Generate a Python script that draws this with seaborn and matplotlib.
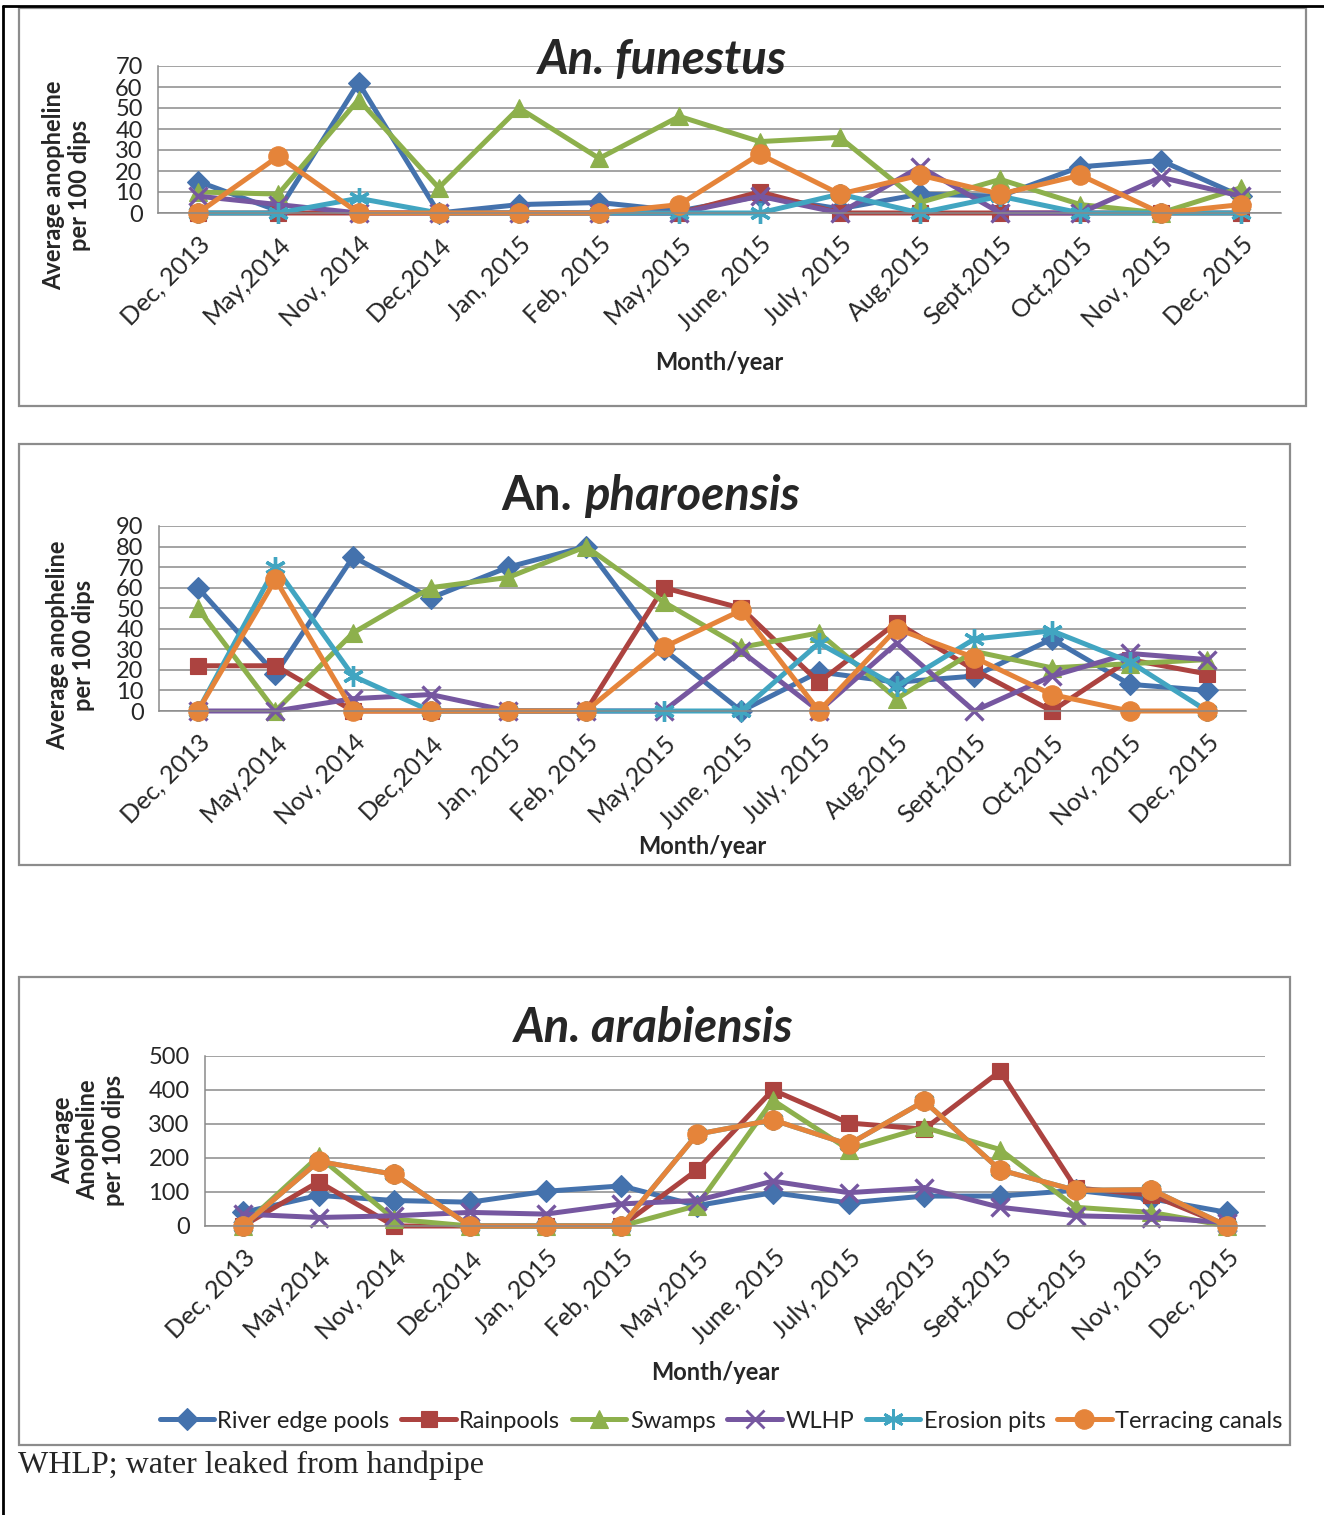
import numpy as np
import pandas as pd
import matplotlib
matplotlib.use("Agg")
import matplotlib.pyplot as plt
from matplotlib.patches import Rectangle
from matplotlib.lines import Line2D
import seaborn as sns

# ---------------------------------------------------------------- data
months = ["Dec, 2013", "May,2014", "Nov, 2014", "Dec,2014", "Jan, 2015",
          "Feb, 2015", "May,2015", "June, 2015", "July, 2015", "Aug,2015",
          "Sept,2015", "Oct,2015", "Nov, 2015", "Dec, 2015"]
sites = ["River edge pools", "Rainpools", "Swamps", "WLHP",
         "Erosion pits", "Terracing canals"]

# An. funestus
fun_river = [15, 1, 62, 0, 4, 5, 1, 8, 2, 9, 8, 22, 25, 8]
fun_rain = [0, 0, 0, 0, 0, 0, 0, 10, 0, 0, 0, 0, 0, 0]
fun_swamp = [10, 9, 54, 12, 50, 26, 46, 34, 36, 5, 16, 4, 0, 12]
fun_wlhp = [8, 4, 0, 0, 0, 0, 0, 8, 0, 22, 0, 0, 17, 8]
fun_erosion = [0, 0, 7, 0, 0, 0, 0, 0, 9, 0, 8, 0, 0, 0]
fun_terrace = [0, 27, 0, 0, 0, 0, 4, 28, 9, 18, 9, 18, 0, 4]

# An. pharoensis
phar_river = [60, 18, 75, 55, 70, 80, 30, 0, 19, 14, 17, 35, 13, 10]
phar_rain = [22, 22, 0, 0, 0, 0, 60, 50, 14, 43, 20, 0, 25, 18]
phar_swamp = [50, 0, 38, 60, 65, 80, 53, 31, 38, 6, 29, 21, 23, 25]
phar_wlhp = [0, 0, 6, 8, 0, 0, 0, 29, 0, 33, 0, 17, 28, 25]
phar_erosion = [0, 70, 17, 0, 0, 0, 0, 0, 33, 12, 35, 39, 24, 0]
phar_terrace = [0, 64, 0, 0, 0, 0, 31, 49, 0, 40, 26, 8, 0, 0]

# An. arabiensis
arab_river = [40, 90, 75, 70, 102, 118, 60, 98, 68, 88, 88, 105, 80, 40]
arab_rain = [0, 130, 0, 0, 0, 0, 165, 400, 303, 285, 455, 112, 91, 0]
arab_swamp = [0, 205, 20, 0, 0, 0, 60, 370, 225, 290, 225, 55, 40, 0]
arab_wlhp = [35, 25, 30, 40, 35, 65, 75, 132, 98, 112, 55, 30, 25, 10]
arab_erosion = [0, 190, 152, 0, 0, 0, 270, 312, 240, 367, 165, 105, 107, 0]
arab_terrace = [0, 190, 152, 0, 0, 0, 270, 312, 240, 367, 165, 105, 107, 0]

# ---------------------------------------------------------------- style
sns.set_style("white")
plt.rcParams["font.family"] = ["Lato", "DejaVu Sans"]

colors = ["#4472AD", "#AC4340", "#8DB04C", "#7657A0", "#41A5C1", "#E5843A"]
markers = ["D", "s", "^", "x", (6, 2, 0), "o"]
msizes = [11, 11, 13, 13, 15, 14]
grid_c = "#8a8a8a"
LW = 3.6

W, H = 1324, 1515
fig = plt.figure(figsize=(W / 100, H / 100), dpi=100)


def fx(px):
    return px / W


def fy(py):
    return 1 - py / H


def add_panel(left, right, top, bottom, series, ymax, ystep):
    ax = fig.add_axes([fx(left), fy(bottom), fx(right - left), (bottom - top) / H])
    x = np.arange(len(months))
    for name, vals, c, m, ms in zip(sites, series, colors, markers, msizes):
        filled = m != "x" and not isinstance(m, tuple)
        sns.lineplot(x=x, y=vals, ax=ax, color=c, linewidth=LW,
                     marker=m, markersize=ms, label=name,
                     markeredgecolor=c, markeredgewidth=2.4 if not filled else 0.8,
                     clip_on=False, legend=False, sort=False)
    ax.set_xlim(-0.5, len(months) - 0.5)
    ax.set_ylim(0, ymax)
    ax.set_yticks(np.arange(0, ymax + 1, ystep))
    ax.set_xticks(np.arange(-0.5, len(months), 1.0))
    ax.set_xticklabels([])
    ax.set_xticks(x, minor=True)
    ax.set_xticklabels(months, minor=True, rotation=45, ha="right",
                       rotation_mode="anchor", fontsize=18)
    ax.tick_params(axis="x", which="minor", length=0, pad=14)
    ax.tick_params(axis="x", which="major", length=7, color=grid_c, width=1,
                   direction="out")
    ax.tick_params(axis="y", length=7, color=grid_c, width=1, direction="out",
                   labelsize=17, pad=4)
    ax.yaxis.grid(True, color=grid_c, linewidth=1.1)
    ax.set_axisbelow(True)
    for s in ("top", "right"):
        ax.spines[s].set_visible(False)
    for s in ("left", "bottom"):
        ax.spines[s].set_color(grid_c)
        ax.spines[s].set_linewidth(1.1)
    ax.set_xlabel("")
    ax.set_ylabel("")
    return ax


ax1 = add_panel(158, 1281, 66, 213,
                [fun_river, fun_rain, fun_swamp, fun_wlhp, fun_erosion, fun_terrace],
                70, 10)
ax2 = add_panel(159, 1246, 526, 711,
                [phar_river, phar_rain, phar_swamp, phar_wlhp, phar_erosion, phar_terrace],
                90, 10)
ax3 = add_panel(205, 1265, 1056, 1226,
                [arab_river, arab_rain, arab_swamp, arab_wlhp, arab_erosion, arab_terrace],
                500, 100)

# ---------------------------------------------------------------- frames
for (l, t, r, b) in [(19, 8, 1306, 406), (19, 444, 1290, 865), (19, 977, 1290, 1445)]:
    fig.patches.append(Rectangle((fx(l), fy(b)), fx(r - l), (b - t) / H,
                                 transform=fig.transFigure, fill=False,
                                 edgecolor="#8c8c8c", linewidth=1.6, zorder=0))
fig.lines.append(Line2D([fx(3), fx(3)], [fy(6), 0], transform=fig.transFigure,
                        color="black", linewidth=2))
fig.lines.append(Line2D([fx(3), 1], [fy(6), fy(6)], transform=fig.transFigure,
                        color="black", linewidth=2))

# ---------------------------------------------------------------- titles
TFS = 34
fig.text(fx(662), fy(60), "An. funestus", fontsize=TFS, fontweight="bold",
         fontstyle="italic", ha="center", va="center")
fig.text(fx(583), fy(496), "An. ", fontsize=TFS, fontweight="bold",
         ha="right", va="center")
fig.text(fx(584), fy(496), "pharoensis", fontsize=TFS, fontweight="bold",
         fontstyle="italic", ha="left", va="center")
fig.text(fx(654), fy(1028), "An. arabiensis", fontsize=TFS, fontweight="bold",
         fontstyle="italic", ha="center", va="center")

# ---------------------------------------------------------------- axis labels
fig.text(fx(67), fy(185), "Average anopheline\nper 100 dips", rotation=90,
         fontsize=17, fontweight="bold", ha="center", va="center",
         multialignment="center", linespacing=1.15)
fig.text(fx(71), fy(645), "Average anopheline\nper 100 dips", rotation=90,
         fontsize=17, fontweight="bold", ha="center", va="center",
         multialignment="center", linespacing=1.15)
fig.text(fx(88), fy(1140), "Average\nAnopheline\nper 100 dips", rotation=90,
         fontsize=17, fontweight="bold", ha="center", va="center",
         multialignment="center", linespacing=1.15)

fig.text(fx(719), fy(363), "Month/year", fontsize=17, fontweight="bold",
         ha="center", va="center")
fig.text(fx(702), fy(846), "Month/year", fontsize=17, fontweight="bold",
         ha="center", va="center")
fig.text(fx(715), fy(1372), "Month/year", fontsize=17, fontweight="bold",
         ha="center", va="center")

# ---------------------------------------------------------------- legend
handles = []
for name, c, m, ms in zip(sites, colors, markers, msizes):
    filled = m != "x" and not isinstance(m, tuple)
    handles.append(Line2D([], [], color=c, linewidth=LW, marker=m,
                          markersize=ms, markeredgecolor=c,
                          markeredgewidth=0.8 if filled else 2.0, label=name))
fig.legend(handles=handles, loc="center", bbox_to_anchor=(fx(721), fy(1421)),
           ncol=6, frameon=False, fontsize=17, handlelength=2.3,
           handletextpad=0.15, columnspacing=0.5, borderaxespad=0,
           labelcolor="#222222")

# ---------------------------------------------------------------- footnote
fig.text(fx(18), fy(1465), "WHLP; water leaked from handpipe",
         family=["Liberation Serif", "DejaVu Serif"], fontsize=23,
         ha="left", va="center")

fig.savefig("out.png", dpi=100, facecolor="white")
